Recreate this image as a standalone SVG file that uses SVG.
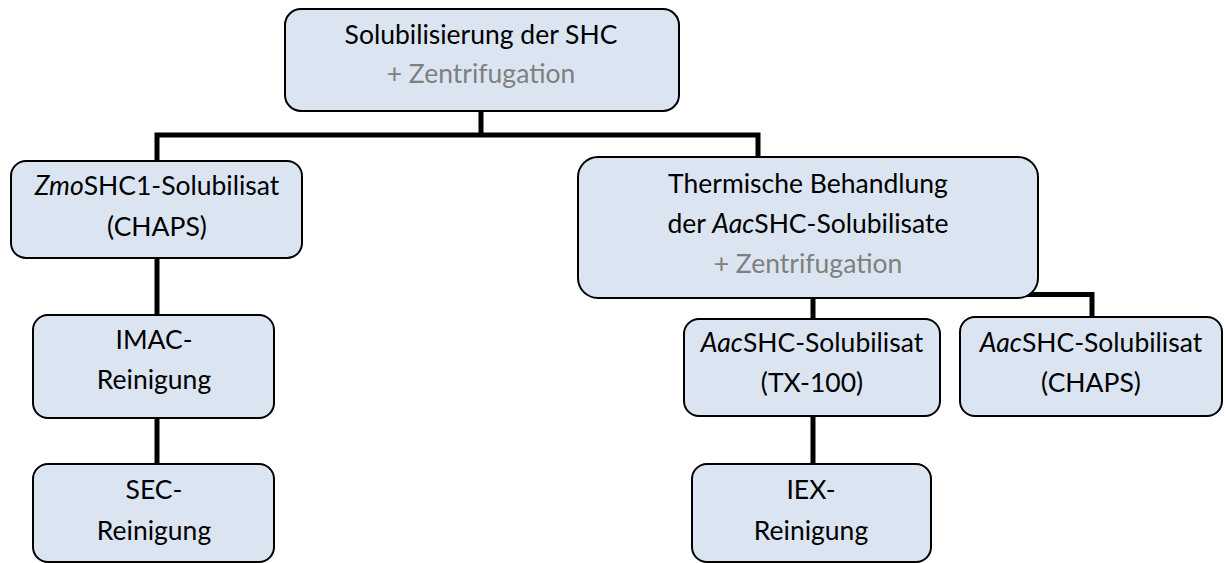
<svg xmlns="http://www.w3.org/2000/svg" width="1226" height="563" viewBox="0 0 1226 563">
<style>
.box{fill:#dbe5f1;stroke:#000;stroke-width:2}
.con{fill:none;stroke:#000;stroke-width:5;stroke-linejoin:miter;stroke-linecap:butt}
text{font-family:Lato,"Open Sans","Liberation Sans",sans-serif;font-size:26.5px;fill:#000;text-anchor:middle}
.g{fill:#7f7f7f}
.i{font-style:italic}
</style>
<rect width="1226" height="563" fill="#fff"/>
<g id="connectors">
<path class="con" d="M481,111 V135"/>
<path class="con" d="M157,161 V135 H758 V157"/>
<path class="con" d="M157,258 V316"/>
<path class="con" d="M157,418 V465"/>
<path class="con" d="M813,297 V320"/>
<path class="con" d="M813,415 V465"/>
<path class="con" d="M1020,294.5 H1092 V318"/>
</g>
<g id="n-top">
<rect class="box" x="285" y="9" width="394" height="102" rx="16"/>
<text x="481" y="44">Solubilisierung der SHC</text>
<text class="g" x="481" y="83">+ Zentrifugation</text>
</g>
<g id="n-zmo">
<rect class="box" x="11" y="161" width="291" height="97" rx="15"/>
<text x="157" y="195"><tspan class="i">Zmo</tspan>SHC1-Solubilisat</text>
<text x="157" y="236">(CHAPS)</text>
</g>
<g id="n-imac">
<rect class="box" x="33" y="315" width="241" height="103" rx="15"/>
<text x="154" y="349">IMAC-</text>
<text x="154" y="389">Reinigung</text>
</g>
<g id="n-sec">
<rect class="box" x="33" y="464" width="241" height="98" rx="15"/>
<text x="154" y="499">SEC-</text>
<text x="154" y="540">Reinigung</text>
</g>
<g id="n-therm">
<rect class="box" x="578" y="157" width="460" height="141" rx="20"/>
<text x="808" y="193">Thermische Behandlung</text>
<text x="808" y="233">der <tspan class="i">Aac</tspan>SHC-Solubilisate</text>
<text class="g" x="808" y="273">+ Zentrifugation</text>
</g>
<g id="n-tx">
<rect class="box" x="684" y="319" width="256" height="97" rx="15"/>
<text x="812" y="352"><tspan class="i">Aac</tspan>SHC-Solubilisat</text>
<text x="812" y="392">(TX-100)</text>
</g>
<g id="n-chaps">
<rect class="box" x="960" y="317" width="262" height="99" rx="15"/>
<text x="1091" y="352"><tspan class="i">Aac</tspan>SHC-Solubilisat</text>
<text x="1091" y="392">(CHAPS)</text>
</g>
<g id="n-iex">
<rect class="box" x="692" y="464" width="239" height="98" rx="15"/>
<text x="811" y="499">IEX-</text>
<text x="811" y="540">Reinigung</text>
</g>
</svg>
